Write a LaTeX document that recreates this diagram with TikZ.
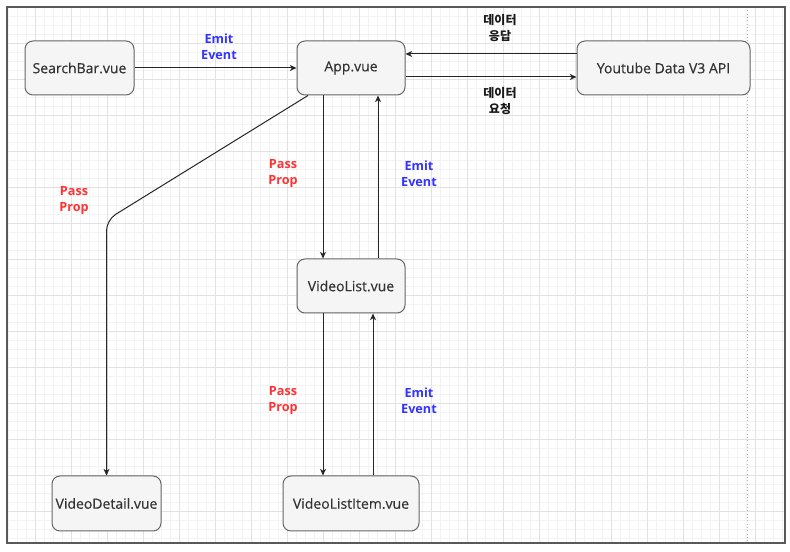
\documentclass[tikz,border=0pt]{standalone}
\usepackage{fontspec}
\setmainfont{Open Sans}
\newfontfamily\boxfont{Open Sans}[FakeBold=0.35]
\newfontfamily\krfont{Noto Sans CJK KR}
\usetikzlibrary{arrows.meta,calc}

\definecolor{boxfill}{HTML}{F5F5F5}
\definecolor{boxline}{HTML}{666666}
\definecolor{boxtext}{HTML}{333333}
\definecolor{emitblue}{HTML}{3333FF}
\definecolor{propred}{HTML}{FF3333}
\definecolor{gridminor}{HTML}{F3F3F3}
\definecolor{gridmajor}{HTML}{E2E2E2}

\begin{document}
\begin{tikzpicture}[x=0.75pt,y=-0.75pt,
  comp/.style={rectangle, rounded corners=6pt, draw=boxline, fill=boxfill,
    line width=0.75pt, text=boxtext, font=\boxfont\fontsize{10.5}{12}\selectfont,
    inner sep=0pt},
  arr/.style={draw=black!85, line width=0.75pt,
    -{Stealth[length=5pt,width=4.5pt,inset=1.5pt]}},
  emitlbl/.style={text=emitblue, align=center,
    font=\fontsize{9.5}{12}\selectfont\bfseries},
  proplbl/.style={text=propred, align=center,
    font=\fontsize{9.5}{12}\selectfont\bfseries},
  krlbl/.style={text=black!90, align=center,
    font=\krfont\fontsize{9}{12}\selectfont\bfseries},
  minorline/.style={draw=gridminor, line width=0.5pt},
  majorline/.style={draw=gridmajor, line width=0.6pt}
]
\useasboundingbox (0,0) rectangle (790,552);
\fill[white] (0,0) rectangle (790,552);

% background grid
\begin{scope}
  \clip (7,7) rectangle (785,543);
  \foreach \x in {8,17,...,782} \draw[minorline] (\x,7) -- (\x,543);
  \foreach \y in {16,25,...,543} \draw[minorline] (7,\y) -- (785,\y);
  \foreach \x in {35,71,...,755} \draw[majorline] (\x,7) -- (\x,543);
  \foreach \y in {43,79,...,543} \draw[majorline] (7,\y) -- (785,\y);
  \draw[draw=black!30, line width=0.5pt, dotted] (747,7) -- (747,543);
\end{scope}
\draw[draw=black!65, line width=1.1pt] (7,7) rectangle (785,543);

% components
\node[comp, minimum width=81.75pt, minimum height=40.5pt] (sb)  at (79.5,68)  {SearchBar.vue};
\node[comp, minimum width=81pt,    minimum height=40.5pt] (app) at (351,68)   {App.vue};
\node[comp, minimum width=129.75pt,minimum height=40.5pt] (yt)  at (663.5,68) {Youtube Data V3 API};
\node[comp, minimum width=81pt,    minimum height=40.5pt] (vl)  at (351,286)  {VideoList.vue};
\node[comp, minimum width=81.75pt, minimum height=41.25pt] (vd) at (106.5,503.5) {VideoDetail.vue};
\node[comp, minimum width=102pt,   minimum height=41.25pt] (vli) at (351,503.5) {VideoListItem.vue};

% connectors
\draw[arr] (sb.east) -- (app.west);
\draw[arr] ($(app.east)+(0,9)$) -- ($(yt.west)+(0,9)$);
\draw[arr] ($(yt.west)+(0,-14)$) -- ($(app.east)+(0,-14)$);
\draw[arr] ($(app.south)+(-28,0)$) -- ($(vl.north)+(-28,0)$);
\draw[arr] ($(vl.north)+(27,0)$) -- ($(app.south)+(27,0)$);
\coordinate (bend) at (106.5,220);
\draw[arr, rounded corners=8pt] ($(app.south)+(-43,0)$) -- (bend) -- (vd.north);
\draw[arr] ($(vl.south)+(-28,0)$) -- ($(vli.north)+(-28,0)$);
\draw[arr] ($(vli.north)+(22,0)$) -- ($(vl.south)+(22,0)$);

% labels
\node[emitlbl] (l1) at (219,47) {Emit\\Event};
\node[krlbl]   (l2) at (500,28) {데이터\\응답};
\node[krlbl]   (l3) at (500,101) {데이터\\요청};
\node[proplbl] (l4) at (74,201) {Pass\\Prop};
\node[proplbl] (l5) at (283,174) {Pass\\Prop};
\node[emitlbl] (l6) at (419,174) {Emit\\Event};
\node[proplbl] (l7) at (283,401) {Pass\\Prop};
\node[emitlbl] (l8) at (419,401) {Emit\\Event};
\end{tikzpicture}
\end{document}
